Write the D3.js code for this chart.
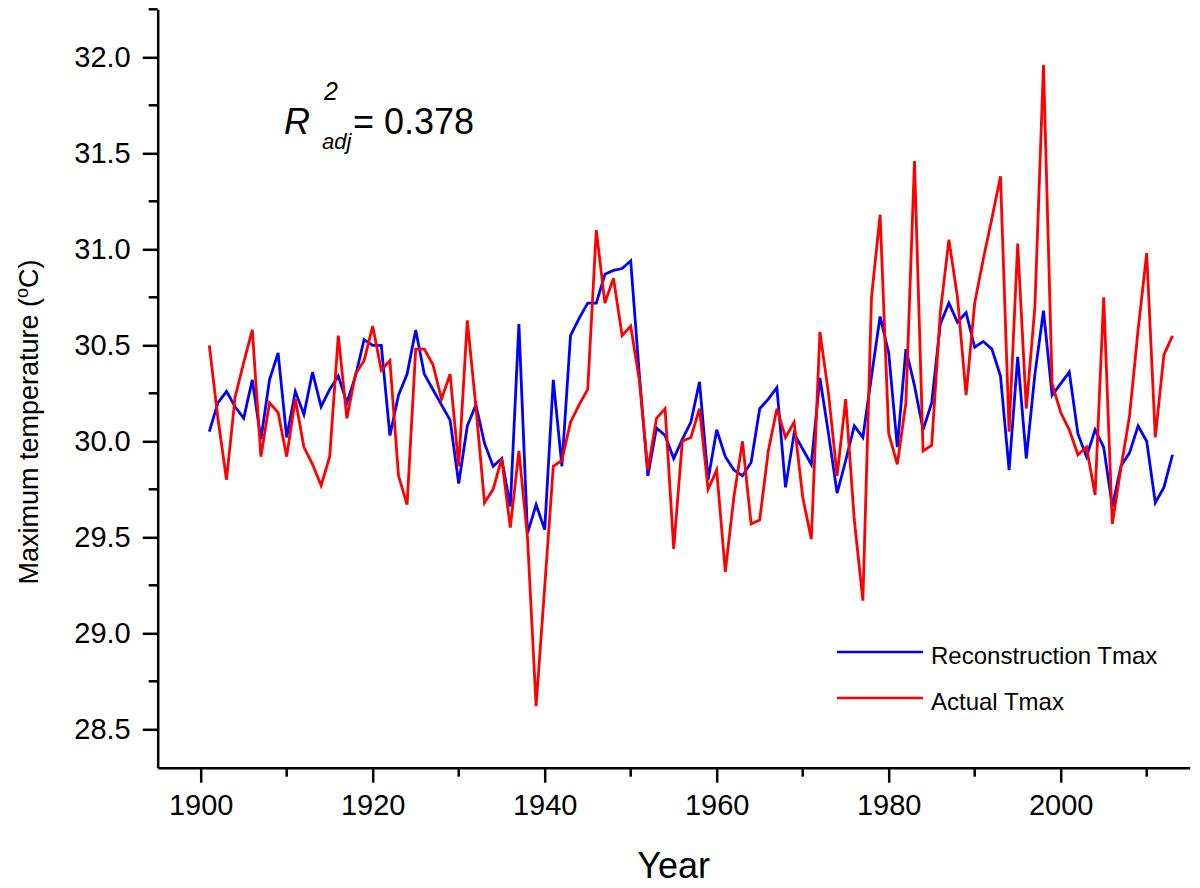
<!DOCTYPE html>
<meta charset="utf-8">
<script src="https://d3js.org/d3.v7.min.js"></script>
<style>
* { margin: 0; padding: 0; }
body { background: #fff; }
svg { display: block; font-family: "Liberation Sans", Arial, sans-serif; }
</style>
<svg width="1200" height="888"></svg>
<script>
// years 1901..2013
const years = d3.range(1901, 2014);

// reconstructed Tmax (blue)
const reconTmax = [
  30.05, 30.20, 30.26, 30.18, 30.12, 30.32, 30.01, 30.32, 30.46, 30.02,
  30.26, 30.14, 30.36, 30.18, 30.27, 30.34, 30.20, 30.34, 30.53, 30.50,
  30.50, 30.03, 30.24, 30.35, 30.58, 30.35, 30.27, 30.19, 30.11, 29.78,
  30.08, 30.19, 29.99, 29.87, 29.91, 29.66, 30.61, 29.52, 29.67, 29.54,
  30.32, 29.87, 30.55, 30.64, 30.72, 30.72, 30.87, 30.89, 30.90, 30.94,
  30.35, 29.82, 30.07, 30.03, 29.91, 30.01, 30.10, 30.31, 29.80, 30.06,
  29.92, 29.85, 29.82, 29.89, 30.17, 30.22, 30.28, 29.76, 30.04, 29.96,
  29.88, 30.33, 30.04, 29.73, 29.90, 30.08, 30.02, 30.34, 30.65, 30.46,
  29.97, 30.48, 30.29, 30.06, 30.20, 30.61, 30.72, 30.62, 30.67, 30.49,
  30.52, 30.48, 30.34, 29.85, 30.44, 29.91, 30.35, 30.68, 30.24, 30.30,
  30.36, 30.04, 29.92, 30.06, 29.97, 29.66, 29.87, 29.94, 30.08, 30.00,
  29.68, 29.76, 29.93
];

// observed Tmax (red)
const actualTmax = [
  30.50, 30.12, 29.80, 30.23, 30.41, 30.58, 29.92, 30.20, 30.15, 29.92,
  30.22, 29.97, 29.88, 29.77, 29.92, 30.55, 30.12, 30.35, 30.42, 30.60,
  30.37, 30.42, 29.82, 29.67, 30.48, 30.48, 30.40, 30.22, 30.35, 29.87,
  30.63, 30.18, 29.68, 29.75, 29.91, 29.55, 29.95, 29.50, 28.62, 29.24,
  29.87, 29.90, 30.10, 30.19, 30.27, 31.10, 30.72, 30.85, 30.55, 30.60,
  30.32, 29.85, 30.12, 30.17, 29.44, 30.00, 30.02, 30.17, 29.75, 29.85,
  29.32, 29.71, 30.00, 29.57, 29.59, 29.95, 30.17, 30.02, 30.10, 29.71,
  29.49, 30.57, 30.25, 29.82, 30.22, 29.59, 29.17, 30.75, 31.18, 30.04,
  29.88, 30.20, 31.46, 29.95, 29.98, 30.67, 31.05, 30.75, 30.24, 30.72,
  30.95, 31.16, 31.38, 30.05, 31.03, 30.17, 30.70, 31.96, 30.30, 30.15,
  30.06, 29.93, 29.97, 29.72, 30.75, 29.57, 29.86, 30.13, 30.58, 30.98,
  30.02, 30.45, 30.55
];

const xTicks = [1900, 1920, 1940, 1960, 1980, 2000];
const xMinor = [1910, 1930, 1950, 1970, 1990, 2010];
const yTicks = [28.5, 29.0, 29.5, 30.0, 30.5, 31.0, 31.5, 32.0];
const yMinor = [28.75, 29.25, 29.75, 30.25, 30.75, 31.25, 31.75, 32.25];

const seriesNames = ["Reconstruction Tmax", "Actual Tmax"];
const seriesColors = ["#0000ff", "#ff0000"];

const svg = d3.select("svg");

const x = d3.scaleLinear().domain([1895, 2015]).range([157.7, 1189.7]);
const y = d3.scaleLinear().domain([28.3, 32.25]).range([767.7, 9.3]);

// axes
const gx = svg.append("g").attr("transform", "translate(0," + y.range()[0] + ")");
gx.call(d3.axisBottom(x).tickValues(xTicks).tickFormat(d3.format("d"))
    .tickSize(15).tickSizeOuter(0).tickPadding(12));
gx.selectAll(".tick text").attr("font-size", "29px").attr("fill", "#000")
  .attr("font-family", "Liberation Sans, Arial, sans-serif");
gx.selectAll(".minor").data(xMinor).enter().append("line")
  .attr("x1", d => x(d)).attr("x2", d => x(d))
  .attr("y1", 0).attr("y2", 9);

const gy = svg.append("g").attr("transform", "translate(" + x.range()[0] + ",0)");
gy.call(d3.axisLeft(y).tickValues(yTicks).tickFormat(d3.format(".1f"))
    .tickSize(15).tickSizeOuter(0).tickPadding(12));
gy.selectAll(".tick text").attr("font-size", "29px").attr("fill", "#000")
  .attr("font-family", "Liberation Sans, Arial, sans-serif");
gy.selectAll(".minor").data(yMinor).enter().append("line")
  .attr("x1", 0).attr("x2", -9)
  .attr("y1", d => y(d)).attr("y2", d => y(d));

svg.selectAll(".domain, .tick line, g line").attr("stroke", "#000").attr("stroke-width", 2.5);

// lines, red drawn last
const line = d3.line().x((d, i) => x(years[i])).y(d => y(d));
[reconTmax, actualTmax].forEach((vals, k) => {
  svg.append("path")
    .datum(vals)
    .attr("fill", "none")
    .attr("stroke", seriesColors[k])
    .attr("stroke-width", 2.8)
    .attr("d", line);
});

// axis titles
svg.append("text")
  .attr("x", (x.range()[0] + x.range()[1]) / 2)
  .attr("y", 878)
  .attr("text-anchor", "middle")
  .attr("font-size", "36px")
  .text("Year");

const yl = svg.append("text")
  .attr("transform", "translate(38,422) rotate(-90)")
  .attr("text-anchor", "middle")
  .attr("font-size", "27px");
yl.append("tspan").text("Maximum temperature (");
yl.append("tspan").attr("font-size", "18px").attr("dy", "-10").text("o");
yl.append("tspan").attr("dy", "10").text("C)");

// R squared annotation
const r2 = svg.append("g");
r2.append("text").attr("x", 284).attr("y", 134).attr("font-size", "36px")
  .attr("font-style", "italic").text("R");
r2.append("text").attr("x", 324).attr("y", 100).attr("font-size", "25px")
  .attr("font-style", "italic").text("2");
r2.append("text").attr("x", 322).attr("y", 149).attr("font-size", "22px")
  .attr("font-style", "italic").text("adj");
r2.append("text").attr("x", 353).attr("y", 134).attr("font-size", "36px")
  .text("= 0.378");

// legend
const leg = svg.append("g");
seriesNames.forEach((name, k) => {
  const ly = 652 + k * 46;
  leg.append("line").attr("x1", 837).attr("x2", 923)
    .attr("y1", ly).attr("y2", ly)
    .attr("stroke", seriesColors[k]).attr("stroke-width", 2.5);
  leg.append("text").attr("x", 931).attr("y", ly + 12)
    .attr("font-size", "24px").text(name);
});
</script>
